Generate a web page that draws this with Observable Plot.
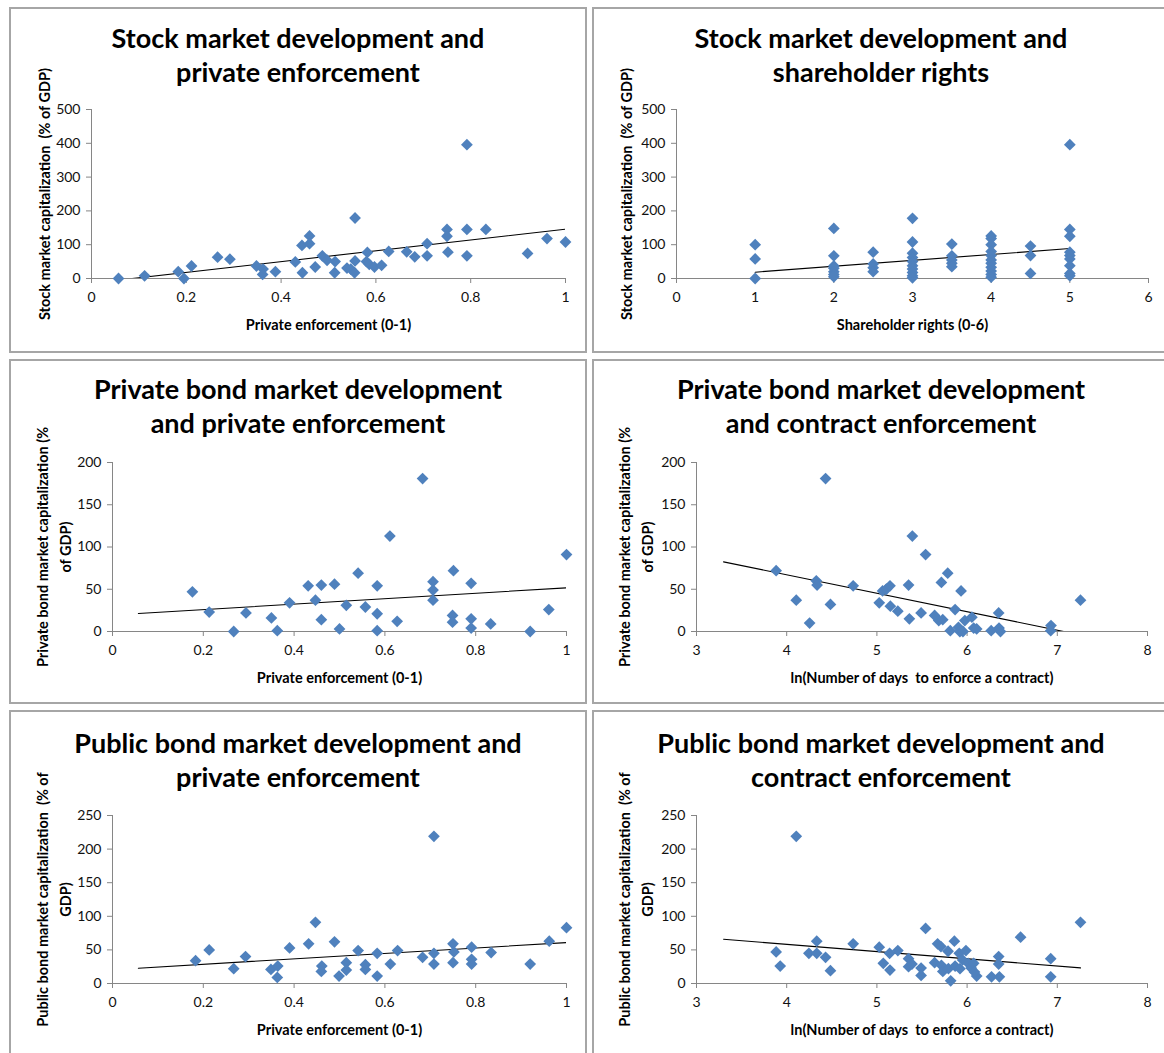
<!DOCTYPE html>
<html><head><meta charset="utf-8">
<script src="https://cdn.jsdelivr.net/npm/d3@7"></script>
<script src="https://cdn.jsdelivr.net/npm/@observablehq/plot@0.6"></script>
<style>
body{margin:0;background:#fff;}
#page{position:relative;width:1164px;height:1053px;overflow:hidden;background:#fff;font-family:Lato,sans-serif;}
.panel{position:absolute;box-sizing:border-box;border:2px solid #a6a6a6;background:#fff;}
.panel svg{position:absolute;left:0;top:0;}
.ttl{position:absolute;left:0;text-align:center;font-weight:700;font-size:27px;line-height:34px;color:#000;white-space:nowrap;}
</style></head><body><div id="page"></div>
<script>
// ---------- data ----------
// Panel 1: private enforcement vs stock market capitalization
const p1x = [0.057,0.112,0.183,0.195,0.211,0.266,0.292,0.348,0.362,0.361,0.388,0.43,0.444,0.445,0.46,0.46,0.472,0.487,0.497,0.514,0.513,0.539,0.547,0.556,0.556,0.555,0.582,0.58,0.586,0.597,0.612,0.627,0.665,0.682,0.708,0.708,0.75,0.75,0.752,0.792,0.792,0.792,0.832,0.92,0.961,1.0];
const p1y = [0,8,20,0,37,63,57,37,28,12,20,49,98,17,126,103,34,67,54,50,17,31,28,179,52,17,77,50,42,34,39,80,79,64,103,67,145,125,78,396,145,67,145,74,118,108];
// Panel 2: shareholder rights vs stock market capitalization
const p2x = [1,1,1, 2,2,2,2,2,2,2, 2.5,2.5,2.5,2.5, 3,3,3,3,3,3,3,3,3,3, 3.5,3.5,3.5,3.5,3.5, 4,4,4,4,4,4,4,4,4,4,4, 4.5,4.5,4.5, 5,5,5,5,5,5,5,5,5];
const p2y = [100,58,0, 148,67,37,30,20,12,5, 78,43,32,20, 178,108,75,62,50,38,28,18,8,2, 102,67,55,45,35, 126,118,100,80,68,55,45,33,22,12,4, 96,68,15, 396,145,125,78,68,58,38,15,8];
// Panel 3: private enforcement vs private bond market capitalization
const p3x = [0.176,0.213,0.267,0.294,0.35,0.363,0.39,0.431,0.447,0.46,0.46,0.489,0.5,0.515,0.541,0.557,0.583,0.583,0.583,0.611,0.627,0.683,0.706,0.706,0.706,0.751,0.749,0.749,0.79,0.79,0.79,0.833,0.92,0.961,1.0];
const p3y = [47,23,0,22,16,1,34,54,37,55,14,56,3,31,69,29,54,21,1,113,12,181,59,49,37,72,19,11,57,15,4,9,0,26,91];
// Panel 4: ln(days to enforce a contract) vs private bond market capitalization
const p4x = [3.883,4.106,4.254,4.328,4.337,4.431,4.485,4.737,5.026,5.063,5.104,5.145,5.149,5.232,5.351,5.36,5.393,5.49,5.54,5.64,5.686,5.715,5.73,5.785,5.814,5.867,5.904,5.933,5.92,5.954,5.975,6.053,6.073,6.106,6.267,6.35,6.354,6.37,6.93,6.927,7.257];
const p4y = [72,37,10,60,55,181,32,54,34,48,50,54,30,24,55,15,113,22,91,19,13,58,14,69,1,26,5,48,0,0,13,17,4,3,1,22,4,0,7,1,37];
// Panel 5: private enforcement vs public bond market capitalization
const p5x = [0.183,0.213,0.267,0.293,0.349,0.364,0.363,0.39,0.432,0.447,0.461,0.46,0.489,0.499,0.515,0.515,0.541,0.557,0.557,0.583,0.583,0.612,0.628,0.683,0.708,0.708,0.708,0.75,0.752,0.75,0.791,0.791,0.791,0.834,0.92,0.962,1.0];
const p5y = [34,50,22,40,21,26,9,53,59,91,26,18,62,11,31,20,49,28,21,45,11,29,49,39,219,45,29,59,47,31,54,36,29,46,29,63,83];
// Panel 6: ln(days to enforce a contract) vs public bond market capitalization
const p6x = [3.883,3.928,4.106,4.246,4.333,4.333,4.431,4.485,4.737,5.026,5.071,5.141,5.145,5.232,5.351,5.351,5.389,5.49,5.49,5.54,5.64,5.673,5.71,5.715,5.731,5.789,5.793,5.818,5.859,5.867,5.913,5.921,5.95,5.987,6.012,6.045,6.073,6.106,6.082,6.271,6.35,6.35,6.358,6.593,6.927,6.927,7.257];
const p6y = [47,26,219,45,63,45,39,19,59,54,30,45,20,49,37,25,29,23,12,82,31,59,55,27,18,48,22,4,63,26,45,22,35,49,30,23,30,11,17,10,40,29,10,69,37,10,91];
// Linear trend lines (end points)
const t1x = [0.057, 1], t1y = [-4.7, 145.7];
const t2x = [1, 5],     t2y = [18.7, 88.6];
const t3x = [0.057, 1], t3y = [21.3, 51.7];
const t4x = [3.3, 7.257], t4y = [82.4, -4.1];
const t5x = [0.057, 1], t5y = [22.8, 60.9];
const t6x = [3.3, 7.257], t6y = [65.8, 23.3];
// Tick values
const peTicks = [0, 0.2, 0.4, 0.6, 0.8, 1];
const srTicks = [0, 1, 2, 3, 4, 5, 6];
const lnTicks = [3, 4, 5, 6, 7, 8];
const stockTicks = [0, 100, 200, 300, 400, 500];
const privTicks = [0, 50, 100, 150, 200];
const pubTicks = [0, 50, 100, 150, 200, 250];
// Texts
const titles = [
  ["Stock market development and", "private enforcement"],
  ["Stock market development and", "shareholder rights"],
  ["Private bond market development", "and private enforcement"],
  ["Private bond market development", "and contract enforcement"],
  ["Public bond market development and", "private enforcement"],
  ["Public bond market development and", "contract enforcement"]
];
const xTitles = ["Private enforcement (0-1)", "Shareholder rights (0-6)", "Private enforcement (0-1)",
  "ln(Number of days  to enforce a contract)", "Private enforcement (0-1)", "ln(Number of days  to enforce a contract)"];
const yTitles = ["Stock market capitalization  (% of GDP)", "Stock market capitalization  (% of GDP)",
  "Private bond market capitalization (%\nof GDP)", "Private bond market capitalization (%\nof GDP)",
  "Public bond market capitalization  (% of\nGDP)", "Public bond market capitalization  (% of\nGDP)"];

// ---------- layout ----------
const colLeft = [9, 592];
const colW = [578, 590];     // right-hand column runs past the picture's edge
const extraRight = [0, 12];
const rowTop = [7, 359, 710];
const rowH = [346, 345, 346];
const layout = [
  {xs:p1x, ys:p1y, tx:t1x, ty:t1y, xd:[0,1], xt:peTicks, yd:[0,500], yt:stockTicks, ml:80, mr:20, mt:100, mb:73, yc:31, tt:12},
  {xs:p2x, ys:p2y, tx:t2x, ty:t2y, xd:[0,6], xt:srTicks, yd:[0,500], yt:stockTicks, ml:82, mr:20, mt:100, mb:73, yc:30, tt:12},
  {xs:p3x, ys:p3y, tx:t3x, ty:t3y, xd:[0,1], xt:peTicks, yd:[0,200], yt:privTicks, ml:101, mr:19, mt:101, mb:71, yc:41, tt:11},
  {xs:p4x, ys:p4y, tx:t4x, ty:t4y, xd:[3,8], xt:lnTicks, yd:[0,200], yt:privTicks, ml:102, mr:21, mt:101, mb:71, yc:40, tt:11},
  {xs:p5x, ys:p5y, tx:t5x, ty:t5y, xd:[0,1], xt:peTicks, yd:[0,250], yt:pubTicks, ml:101, mr:19, mt:103, mb:71, yc:41, tt:14},
  {xs:p6x, ys:p6y, tx:t6x, ty:t6y, xd:[3,8], xt:lnTicks, yd:[0,250], yt:pubTicks, ml:102, mr:21, mt:103, mb:71, yc:40, tt:14}
];

const page = document.getElementById("page");
const axisGray = "#868686";
const fmt = d => String(+(+d).toFixed(2));

layout.forEach((c, i) => {
  const col = i % 2, row = Math.floor(i / 2);
  const div = document.createElement("div");
  div.className = "panel";
  div.style.left = colLeft[col] + "px";
  div.style.top = rowTop[row] + "px";
  div.style.width = colW[col] + "px";
  div.style.height = rowH[row] + "px";
  const w = colW[col] - 4, h = rowH[row] - 4;
  const pts = c.xs.map((x, k) => ({x, y: c.ys[k]}));
  const trend = c.tx.map((x, k) => ({x, y: c.ty[k]}));
  const chart = Plot.plot({
    width: w, height: h,
    marginLeft: c.ml, marginRight: c.mr + extraRight[col], marginTop: c.mt, marginBottom: c.mb,
    style: {fontFamily: "Lato, sans-serif", fontSize: "14px", color: "#111", background: "transparent", overflow: "visible"},
    x: {domain: c.xd},
    y: {domain: c.yd},
    marks: [
      Plot.ruleY([c.yd[0]], {stroke: axisGray}),
      Plot.ruleX([c.xd[0]], {stroke: axisGray}),
      Plot.axisX(c.xt, {tickSize: 5, tickPadding: 9, tickFormat: fmt, stroke: axisGray, fill: "#111", label: null}),
      Plot.axisY(c.yt, {tickSize: 5, tickPadding: 6, tickFormat: fmt, stroke: axisGray, fill: "#111", label: null}),
      Plot.line(trend, {x: "x", y: "y", stroke: "#000", strokeWidth: 1.1, clip: true}),
      Plot.dot(pts, {x: "x", y: "y", symbol: "diamond2", r: 5.3, fill: "#4F81BD", stroke: "none"}),
      Plot.text([xTitles[i]], {text: d => d, frameAnchor: "bottom", textAnchor: "middle", lineAnchor: "middle", dy: 47, fontWeight: "bold", fontSize: 14.5, fill: "#000"}),
      Plot.text([yTitles[i]], {text: d => d, frameAnchor: "left", textAnchor: "middle", lineAnchor: "middle", rotate: -90, dx: c.yc - c.ml, fontWeight: "bold", fontSize: 14.5, lineHeight: 1.55, fill: "#000"})
    ]
  });
  div.appendChild(chart);
  const t = document.createElement("div");
  t.className = "ttl";
  t.style.top = c.tt + "px";
  t.style.width = (colW[col] - 4 - extraRight[col]) + "px";
  t.innerHTML = titles[i].map(s => `<div>${s}</div>`).join("");
  div.appendChild(t);
  page.appendChild(div);
});
</script></body></html>
